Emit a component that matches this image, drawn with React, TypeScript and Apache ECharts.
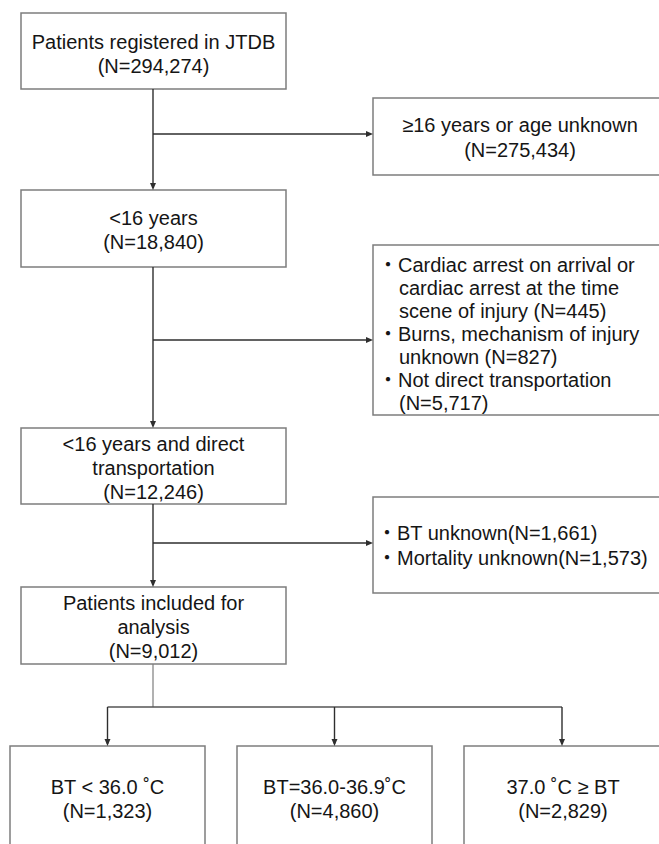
import React, { useEffect, useRef } from "react";
import * as echarts from "echarts";

// ---- Data (text content of the flow chart) ----
const mainBoxLines: string[][] = [
  ["Patients registered in JTDB", "(N=294,274)"],
  ["<16 years", "(N=18,840)"],
  ["<16 years and direct", "transportation", "(N=12,246)"],
  ["Patients included for", "analysis", "(N=9,012)"],
];
const excludedAgeLines: string[] = ["≥16 years or age unknown", "(N=275,434)"];
const excludedStep2: string[][] = [
  ["Cardiac arrest on arrival or", "cardiac arrest at the time", "scene of injury (N=445)"],
  ["Burns, mechanism of injury", "unknown (N=827)"],
  ["Not direct transportation", "(N=5,717)"],
];
const excludedStep3: string[][] = [["BT unknown(N=1,661)"], ["Mortality unknown(N=1,573)"]];
const groupLabels: string[] = ["BT < 36.0 ˚C", "BT=36.0-36.9˚C", "37.0 ˚C ≥ BT"];
const groupCounts: string[] = ["1,323", "4,860", "2,829"];

const FONT = '"Liberation Sans", Arial, Helvetica, "Noto Sans CJK JP", sans-serif';
const BORDER = "#7d7d7d";
const LINE = "#2e2e2e";
const GRAYLINE = "#7d7d7d";
const TXT = "#151515";
const FS = 20;

function box(x1: number, y1: number, x2: number, y2: number) {
  return {
    type: "rect",
    shape: { x: x1, y: y1, width: x2 - x1, height: y2 - y1 },
    style: { fill: "#fff", stroke: BORDER, lineWidth: 1.5 },
    z: 1,
  };
}
function line(x1: number, y1: number, x2: number, y2: number, color = LINE, w = 1.4) {
  return { type: "line", shape: { x1, y1, x2, y2 }, style: { stroke: color, lineWidth: w }, z: 2 };
}
function arrowDown(x: number, y: number) {
  return { type: "polygon", shape: { points: [[x - 3, y - 7], [x + 3, y - 7], [x, y]] }, style: { fill: LINE }, z: 3 };
}
function arrowRight(x: number, y: number) {
  return { type: "polygon", shape: { points: [[x - 7, y - 3], [x - 7, y + 3], [x, y]] }, style: { fill: LINE }, z: 3 };
}
function text(s: string, x: number, y: number, align: string = "center") {
  return {
    type: "text",
    x,
    y,
    style: { text: s, fill: TXT, fontSize: FS, fontFamily: FONT, textAlign: align, textVerticalAlign: "middle" },
    z: 4,
  };
}

export default function App() {
  const ref = useRef<HTMLDivElement>(null);
  useEffect(() => {
    if (!ref.current) return;
    const chart = echarts.init(ref.current, null, { renderer: "svg" });
    const els: any[] = [];
    const cx = 153.5;
    // main boxes
    const mainBoxes = [
      [13, 89, 42],
      [190, 267, 218],
      [428, 504, 444],
      [587, 664, 603],
    ];
    mainBoxes.forEach((b, i) => {
      els.push(box(21, b[0], 286, b[1]));
      mainBoxLines[i].forEach((s, k) => els.push(text(s, cx, b[2] + k * 23.8)));
    });
    // main vertical connectors
    const vx = 153;
    [[89, 190], [267, 428], [504, 587]].forEach(([a, b]) => {
      els.push(line(vx, a, vx, b - 2));
      els.push(arrowDown(vx, b));
    });
    // branches
    [134, 340, 543].forEach((y) => {
      els.push(line(vx, y, 370, y));
      els.push(arrowRight(373, y));
    });
    // exclusion box 1
    els.push(box(373, 98, 662, 175));
    excludedAgeLines.forEach((s, k) => els.push(text(s, 520, 125 + k * 24.5)));
    // exclusion box 2
    els.push(box(373, 245, 662, 415));
    let y = 265;
    excludedStep2.forEach((item) => {
      item.forEach((s, k) => {
        if (k === 0) els.push(text("・" + s, 378, y, "left"));
        else els.push(text(s, 399, y, "left"));
        y += 23;
      });
    });
    // exclusion box 3
    els.push(box(373, 497, 662, 593));
    let y3 = 533;
    excludedStep3.forEach((item) => {
      item.forEach((s, k) => {
        if (k === 0) els.push(text("・" + s, 377, y3, "left"));
        else els.push(text(s, 398, y3, "left"));
        y3 += 25;
      });
    });
    // split to groups
    els.push(line(vx, 664, vx, 707, GRAYLINE, 1.2));
    const gx = [107.5, 334.5, 562];
    els.push(line(gx[0], 707, gx[2], 707, "#555", 1.3));
    const gBoxes = [
      [10, 205],
      [237, 432],
      [464, 662],
    ];
    gBoxes.forEach((g, i) => {
      els.push(line(gx[i], 707, gx[i], 744));
      els.push(arrowDown(gx[i], 746));
      els.push(box(g[0], 746, g[1], 860));
      els.push(text(groupLabels[i], (g[0] + g[1]) / 2, 787));
      els.push(text(`(N=${groupCounts[i]})`, (g[0] + g[1]) / 2, 811));
    });

    chart.setOption({
      animation: false,
      backgroundColor: "#ffffff",
      graphic: { elements: els },
    });
    return () => chart.dispose();
  }, []);
  return (
    <div
      ref={ref}
      style={{ position: "fixed", left: 0, top: 0, width: 659, height: 844, background: "#fff" }}
    />
  );
}
